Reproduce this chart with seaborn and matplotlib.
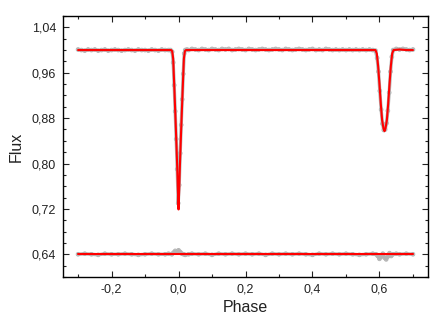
import matplotlib
matplotlib.use("Agg")
import matplotlib.pyplot as plt
from matplotlib.ticker import FuncFormatter, MultipleLocator, FixedLocator
import seaborn as sns
import pandas as pd

# ---------------- data ----------------
# model light curve (red)
model_phase = [-0.30, -0.20, -0.10, -0.05, -0.022, -0.019, -0.016, -0.012, -0.008, -0.004,
               -0.002, 0.0, 0.002, 0.004, 0.008, 0.012, 0.016, 0.019, 0.022, 0.05, 0.10,
               0.20, 0.30, 0.40, 0.50, 0.56, 0.588, 0.592, 0.596, 0.600, 0.604, 0.608,
               0.612, 0.615, 0.618, 0.622, 0.626, 0.630, 0.634, 0.638, 0.642, 0.66, 0.68, 0.70]
model_flux = [1.000, 1.000, 1.000, 1.000, 1.000, 0.998, 0.985, 0.925, 0.862, 0.795,
              0.755, 0.719, 0.755, 0.795, 0.862, 0.925, 0.985, 0.998, 1.000, 1.000, 1.000,
              1.000, 1.000, 1.000, 1.000, 1.000, 1.000, 0.994, 0.972, 0.940, 0.905, 0.876,
              0.862, 0.857, 0.862, 0.876, 0.905, 0.940, 0.972, 0.994, 1.000, 1.001, 1.000, 1.000]

# observed points (gray)
obs_phase = [-0.30, -0.29, -0.28, -0.27, -0.26, -0.25, -0.24, -0.23, -0.22, -0.21, -0.20,
             -0.19, -0.18, -0.17, -0.16, -0.15, -0.14, -0.13, -0.12, -0.11, -0.10, -0.09,
             -0.08, -0.07, -0.06, -0.05, -0.04, -0.03, -0.024, -0.019, -0.016, -0.013,
             -0.010, -0.007, -0.004, -0.001, 0.002, 0.005, 0.008, 0.011, 0.014, 0.017,
             0.020, 0.025, 0.03, 0.04, 0.05, 0.06, 0.07, 0.08, 0.09, 0.10, 0.11, 0.12,
             0.13, 0.14, 0.15, 0.16, 0.17, 0.18, 0.19, 0.20, 0.21, 0.22, 0.23, 0.24, 0.25,
             0.26, 0.27, 0.28, 0.29, 0.30, 0.31, 0.32, 0.33, 0.34, 0.35, 0.36, 0.37, 0.38,
             0.39, 0.40, 0.41, 0.42, 0.43, 0.44, 0.45, 0.46, 0.47, 0.48, 0.49, 0.50, 0.51,
             0.52, 0.53, 0.54, 0.55, 0.56, 0.57, 0.58, 0.588, 0.593, 0.597, 0.601, 0.605,
             0.609, 0.613, 0.617, 0.621, 0.625, 0.629, 0.633, 0.637, 0.641, 0.65, 0.66,
             0.67, 0.68, 0.69, 0.70]
obs_flux = [1.001, 1.000, 0.999, 1.001, 1.000, 1.001, 0.999, 1.000, 1.001, 0.999, 1.000,
            1.001, 1.000, 0.999, 1.000, 1.001, 1.000, 0.999, 1.001, 1.000, 1.000, 0.999,
            1.001, 1.000, 0.999, 1.001, 1.000, 1.000, 1.000, 0.997, 0.978, 0.938,
            0.892, 0.843, 0.790, 0.730, 0.762, 0.818, 0.868, 0.913, 0.958, 0.994,
            1.000, 1.001, 1.000, 1.002, 1.001, 1.000, 1.002, 1.001, 1.000, 1.002, 1.001, 1.000,
            1.002, 1.001, 1.002, 1.000, 1.001, 1.002, 1.001, 1.000, 1.002, 1.001, 1.000, 1.001,
            1.002, 1.001, 1.000, 1.001, 1.002, 1.001, 1.000, 1.002, 1.001, 1.000, 1.001, 1.002,
            1.001, 1.000, 1.001, 1.002, 1.000, 1.001, 1.000, 1.002, 1.001, 1.000, 1.001, 1.000,
            1.001, 1.000, 1.001, 1.000, 1.001, 1.000, 1.001, 1.000, 1.001, 1.000, 0.999,
            0.986, 0.962, 0.928, 0.895, 0.870, 0.859, 0.860, 0.871, 0.893, 0.925, 0.962,
            0.988, 1.000, 1.002, 1.001, 1.002, 1.001, 1.000, 1.001]

# residuals, shifted to 0.64 (gray) and their zero line (red)
res_phase = [-0.30, -0.28, -0.26, -0.24, -0.22, -0.20, -0.18, -0.16, -0.14, -0.12, -0.10,
             -0.08, -0.06, -0.04, -0.03, -0.02, -0.015, -0.01, -0.005, 0.0, 0.005, 0.01,
             0.015, 0.02, 0.03, 0.04, 0.06, 0.08, 0.10, 0.12, 0.14, 0.16, 0.18, 0.20,
             0.22, 0.24, 0.26, 0.28, 0.30, 0.32, 0.34, 0.36, 0.38, 0.40, 0.42, 0.44,
             0.46, 0.48, 0.50, 0.52, 0.54, 0.56, 0.58, 0.59, 0.595, 0.60, 0.605, 0.61,
             0.615, 0.62, 0.625, 0.63, 0.635, 0.64, 0.65, 0.66, 0.68, 0.70]
res_flux = [0.640, 0.641, 0.640, 0.639, 0.641, 0.640, 0.640, 0.641, 0.640, 0.639, 0.640,
            0.641, 0.640, 0.640, 0.641, 0.640, 0.643, 0.646, 0.643, 0.647, 0.644, 0.641,
            0.640, 0.639, 0.640, 0.641, 0.640, 0.641, 0.639, 0.641, 0.640, 0.641, 0.640, 0.641,
            0.640, 0.641, 0.639, 0.641, 0.640, 0.641, 0.640, 0.641, 0.640, 0.639, 0.641, 0.640,
            0.641, 0.640, 0.641, 0.640, 0.639, 0.640, 0.641, 0.640, 0.637, 0.632, 0.636, 0.641,
            0.634, 0.631, 0.636, 0.642, 0.637, 0.640, 0.641, 0.640, 0.641, 0.640]
res_line_phase = [-0.30, 0.70]
res_line_flux = [0.64, 0.64]

y_ticks = [0.64, 0.72, 0.80, 0.88, 0.96, 1.04]
x_ticks = [-0.2, 0.0, 0.2, 0.4, 0.6]

# ---------------- plot ----------------
sns.set_style("ticks")
plt.rcParams["font.family"] = ["Liberation Sans", "DejaVu Sans"]

fig = plt.figure(figsize=(4.36, 3.27), dpi=100)
ax = fig.add_axes([0.1445, 0.153, 0.8372, 0.798])

gray = "#b4b4b4"
obs = pd.DataFrame({"phase": obs_phase, "flux": obs_flux})
res = pd.DataFrame({"phase": res_phase, "flux": res_flux})
mod = pd.DataFrame({"phase": model_phase, "flux": model_flux})
resl = pd.DataFrame({"phase": res_line_phase, "flux": res_line_flux})

for df in (obs, res):
    sns.lineplot(data=df, x="phase", y="flux", ax=ax, color=gray, lw=2.4,
                 sort=False, estimator=None)
    sns.scatterplot(data=df, x="phase", y="flux", ax=ax, marker="o", s=7,
                    facecolor="none", edgecolor=gray, linewidth=0.7, zorder=3)

sns.lineplot(data=mod, x="phase", y="flux", ax=ax, color="#ff0000", lw=1.5,
             sort=False, estimator=None, zorder=4)
sns.lineplot(data=resl, x="phase", y="flux", ax=ax, color="#ff0000", lw=1.5,
             sort=False, estimator=None, zorder=4)

ax.set_xlim(-0.345, 0.745)
ax.set_ylim(0.60, 1.06)
ax.yaxis.set_major_locator(FixedLocator(y_ticks))
ax.xaxis.set_major_locator(FixedLocator(x_ticks))
ax.yaxis.set_minor_locator(MultipleLocator(0.02))
ax.xaxis.set_minor_locator(MultipleLocator(0.1))
ax.yaxis.set_major_formatter(FuncFormatter(lambda v, p: f"{v:.2f}".replace(".", ",")))
ax.xaxis.set_major_formatter(FuncFormatter(
    lambda v, p: f"{(0.0 if abs(v) < 1e-9 else v):.1f}".replace(".", ",")))

ax.tick_params(which="both", direction="in", top=True, right=True,
               colors="#222222", labelsize=9, width=0.8)
ax.tick_params(which="major", length=4, pad=5)
ax.tick_params(which="minor", length=2)
for s in ax.spines.values():
    s.set_linewidth(1.0)
    s.set_color("black")

ax.set_xlabel("Phase", fontsize=11.5, color="#222222", labelpad=3)
ax.set_ylabel("Flux", fontsize=11.5, color="#222222", labelpad=6)

fig.savefig("out.png", dpi=100)
